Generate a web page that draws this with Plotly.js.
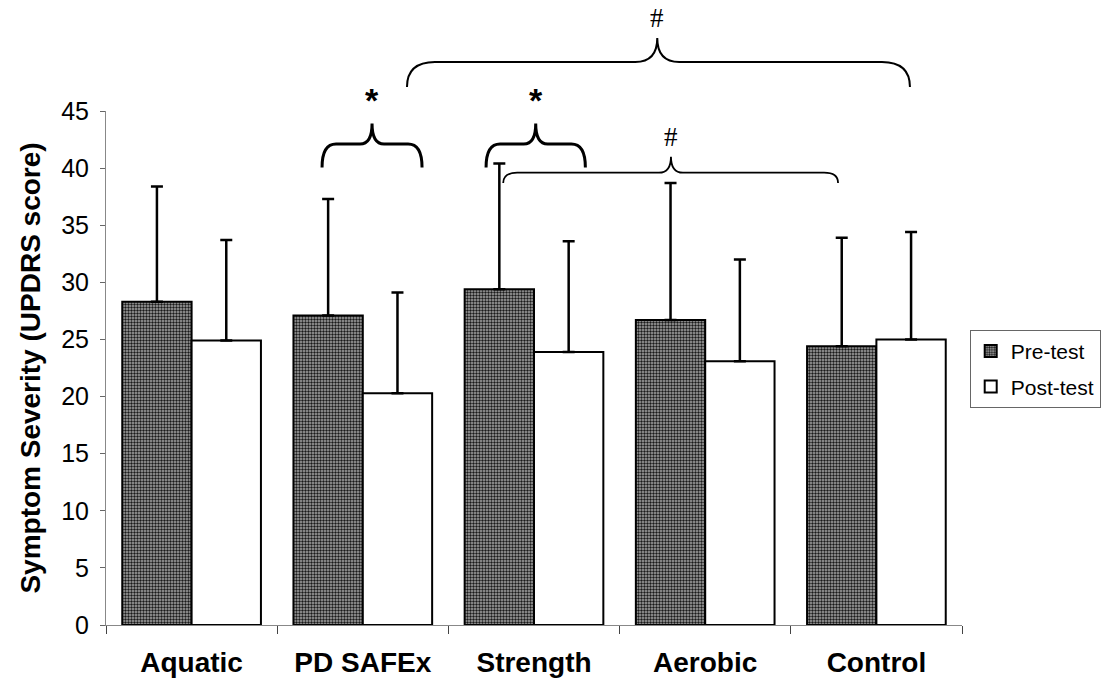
<!DOCTYPE html>
<html>
<head>
<meta charset="utf-8">
<script src="https://cdn.plot.ly/plotly-3.0.1.min.js"></script>
<style>html,body{margin:0;padding:0;background:#fff;}#chart{width:1112px;height:689px;}</style>
</head>
<body>
<div id="chart"></div>
<script>
const categories = ['Aquatic', 'PD SAFEx', 'Strength', 'Aerobic', 'Control'];
const preMeans  = [28.3, 27.1, 29.4, 26.7, 24.4];
const preSD     = [10.1, 10.2, 11.0, 12.0, 9.5];
const postMeans = [24.9, 20.3, 23.9, 23.1, 25.0];
const postSD    = [8.8, 8.8, 9.7, 8.9, 9.4];
const seriesNames = ['Pre-test', 'Post-test'];

// significance braces
const braceLabels = ['*', '*', '#', '#'];
const braceSpans = [[0.762, 1.346, 1.054], [1.72, 2.30, 2.01], [1.258, 4.196, 2.72], [1.82, 3.776, 2.80]];
const braceLevels = [[40.05, 42.1, 43.9, 46.0], [40.05, 42.1, 43.9, 46.0], [47.1, 49.3, 51.4, 53.1], [38.7, 39.6, 41.0, 42.7]];

const nCat = categories.length;
const yMax = 45;
const plotW = 856, plotH = 514;
const cx = c => (c + 0.5) / nCat;
const vy = v => v / yMax;

const zeros = categories.map(() => 0);
const traces = [
  {
    type: 'bar', name: seriesNames[0], x: categories, y: preMeans, legendgroup: 'a',
    marker: {color: '#8c8c8c', line: {color: '#000', width: 2},
             pattern: {shape: '.', fgcolor: '#1a1a1a', bgcolor: '#a8a8a8', size: 3, solidity: 0.5}},
    error_y: {type: 'data', symmetric: false, array: preSD, arrayminus: zeros, color: '#000', thickness: 2.5, width: 6}
  },
  {
    type: 'bar', name: seriesNames[1], x: categories, y: postMeans, legendgroup: 'b',
    marker: {color: '#fff', line: {color: '#000', width: 2}},
    error_y: {type: 'data', symmetric: false, array: postSD, arrayminus: zeros, color: '#000', thickness: 2.5, width: 6}
  }
];

const shapes = [];
const annotations = [];
braceSpans.forEach((s, i) => {
  const [c0, c1, cc] = s;
  const [yEnd, yFlat, yCusp, yLab] = braceLevels[i];
  const x0 = cx(c0), x1 = cx(c1), xc = cx(cc);
  const big = i === 2;
  const r = (big ? 28 : 14) / plotW;
  const rc = (big ? 22 : 12) / plotW;
  const ye = vy(yEnd), yf = vy(yFlat), yk = vy(yCusp);
  const path = `M${x0},${ye} Q${x0},${yf} ${x0 + r},${yf} L${xc - rc},${yf} Q${xc},${yf} ${xc},${yk} ` +
               `Q${xc},${yf} ${xc + rc},${yf} L${x1 - r},${yf} Q${x1},${yf} ${x1},${ye}`;
  shapes.push({type: 'path', xref: 'paper', yref: 'paper', path: path,
               line: {color: '#000', width: i < 2 ? 3 : (i === 2 ? 2 : 1.8)}});
  const isStar = braceLabels[i] === '*';
  annotations.push({xref: 'paper', yref: 'paper', x: xc, y: vy(yLab), text: braceLabels[i], showarrow: false,
    xanchor: 'center', yanchor: 'middle',
    font: isStar ? {family: 'Liberation Sans, Arial', size: 34, color: '#000', weight: 'bold'}
                 : {family: 'Liberation Serif, Times New Roman', size: 27, color: '#000'}});
});

const layout = {
  width: 1112, height: 689,
  margin: {l: 106, r: 150, t: 111, b: 64, autoexpand: false},
  paper_bgcolor: '#fff', plot_bgcolor: '#fff',
  barmode: 'group', bargap: 0.19, bargroupgap: 0,
  showlegend: true,
  legend: {x: 1.009, xanchor: 'left', y: 0.574, yanchor: 'top', bordercolor: '#666', borderwidth: 1,
           bgcolor: '#fff', traceorder: 'grouped', tracegroupgap: 5, itemwidth: 30,
           font: {family: 'Liberation Sans, Arial', size: 21, color: '#000'}},
  xaxis: {type: 'category', tickson: 'boundaries', ticks: 'outside', ticklen: 8, tickcolor: '#444', tickwidth: 1,
          showline: true, linecolor: '#888', linewidth: 1, showgrid: false, zeroline: false,
          ticklabelstandoff: 12,
          tickfont: {family: 'Liberation Sans, Arial', size: 28, color: '#000', weight: 'bold'}},
  yaxis: {range: [0, 45], dtick: 5, tick0: 0, ticks: 'outside', ticklen: 5, tickcolor: '#666', tickwidth: 1,
          showline: true, linecolor: '#888', linewidth: 1, showgrid: false, zeroline: false,
          ticklabelstandoff: 6,
          tickfont: {family: 'Liberation Sans, Arial', size: 25, color: '#000'},
          title: {text: 'Symptom Severity (UPDRS score)', standoff: 12,
                  font: {family: 'Liberation Sans, Arial', size: 28, color: '#000', weight: 'bold'}}},
  shapes: shapes,
  annotations: annotations
};

Plotly.newPlot('chart', traces, layout, {displayModeBar: false, staticPlot: true});
</script>
</body>
</html>
